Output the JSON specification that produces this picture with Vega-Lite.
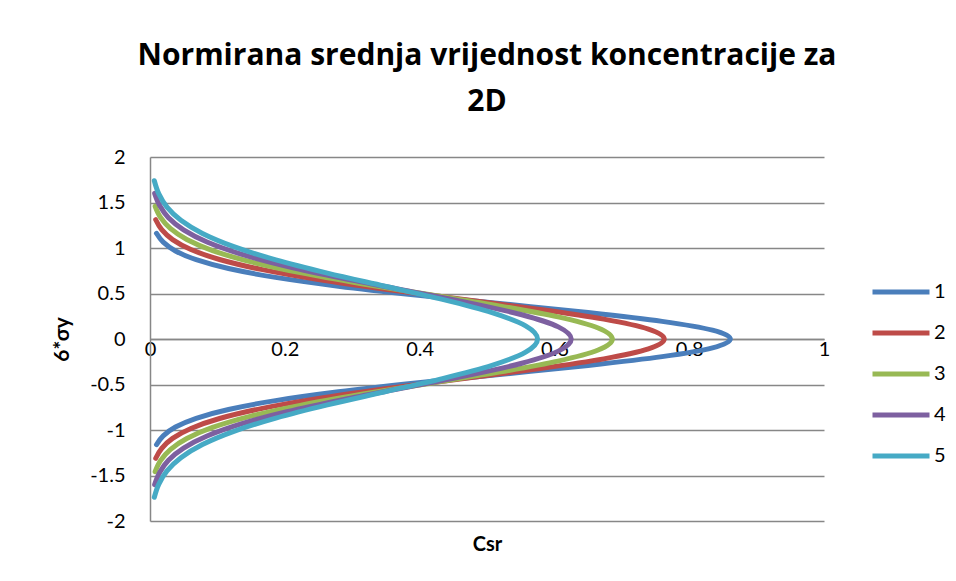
{
 "$schema": "https://vega.github.io/schema/vega-lite/v6.json",
 "autosize": {"type": "none"},
 "width": 674,
 "height": 364,
 "padding": {"left": 150, "top": 157, "right": 132, "bottom": 60},
 "background": "white",
 "title": {"text": ["Normirana srednja vrijednost koncentracije za", "2D"], "font": "Open Sans", "fontSize": 30, "fontWeight": "bold", "color": "black", "anchor": "middle", "frame": "group", "lineHeight": 46, "offset": 30},
 "config": {"view": {"stroke": null}, "font": "Lato"},
 "data": {"values": [
  {"s":"1","c":0.0096,"y":-1.1613},{"s":"1","c":0.0196,"y":-1.0645},{"s":"1","c":0.0378,"y":-0.9678},{"s":"1","c":0.0685,"y":-0.8710},{"s":"1","c":0.1165,"y":-0.7742},{"s":"1","c":0.1862,"y":-0.6774},{"s":"1","c":0.2796,"y":-0.5807},{"s":"1","c":0.3942,"y":-0.4839},{"s":"1","c":0.5222,"y":-0.3871},{"s":"1","c":0.6499,"y":-0.2903},{"s":"1","c":0.7598,"y":-0.1936},{"s":"1","c":0.8345,"y":-0.0968},
  {"s":"1","c":0.861,"y":0},
  {"s":"1","c":0.8345,"y":0.0968},{"s":"1","c":0.7598,"y":0.1936},{"s":"1","c":0.6499,"y":0.2903},{"s":"1","c":0.5222,"y":0.3871},{"s":"1","c":0.3942,"y":0.4839},{"s":"1","c":0.2796,"y":0.5807},{"s":"1","c":0.1862,"y":0.6774},{"s":"1","c":0.1165,"y":0.7742},{"s":"1","c":0.0685,"y":0.8710},{"s":"1","c":0.0378,"y":0.9678},{"s":"1","c":0.0196,"y":1.0645},{"s":"1","c":0.0096,"y":1.1613},

  {"s":"2","c":0.0085,"y":-1.3107},{"s":"2","c":0.0174,"y":-1.2015},{"s":"2","c":0.0335,"y":-1.0923},{"s":"2","c":0.0607,"y":-0.9830},{"s":"2","c":0.1032,"y":-0.8738},{"s":"2","c":0.1650,"y":-0.7646},{"s":"2","c":0.2477,"y":-0.6554},{"s":"2","c":0.3493,"y":-0.5461},{"s":"2","c":0.4628,"y":-0.4369},{"s":"2","c":0.5759,"y":-0.3277},{"s":"2","c":0.6734,"y":-0.2185},{"s":"2","c":0.7395,"y":-0.1092},
  {"s":"2","c":0.763,"y":0},
  {"s":"2","c":0.7395,"y":0.1092},{"s":"2","c":0.6734,"y":0.2185},{"s":"2","c":0.5759,"y":0.3277},{"s":"2","c":0.4628,"y":0.4369},{"s":"2","c":0.3493,"y":0.5461},{"s":"2","c":0.2477,"y":0.6554},{"s":"2","c":0.1650,"y":0.7646},{"s":"2","c":0.1032,"y":0.8738},{"s":"2","c":0.0607,"y":0.9830},{"s":"2","c":0.0335,"y":1.0923},{"s":"2","c":0.0174,"y":1.2015},{"s":"2","c":0.0085,"y":1.3107},

  {"s":"3","c":0.0076,"y":-1.4577},{"s":"3","c":0.0156,"y":-1.3362},{"s":"3","c":0.0301,"y":-1.2148},{"s":"3","c":0.0546,"y":-1.0933},{"s":"3","c":0.0928,"y":-0.9718},{"s":"3","c":0.1484,"y":-0.8503},{"s":"3","c":0.2227,"y":-0.7289},{"s":"3","c":0.3141,"y":-0.6074},{"s":"3","c":0.4161,"y":-0.4859},{"s":"3","c":0.5178,"y":-0.3644},{"s":"3","c":0.6054,"y":-0.2430},{"s":"3","c":0.6649,"y":-0.1215},
  {"s":"3","c":0.686,"y":0},
  {"s":"3","c":0.6649,"y":0.1215},{"s":"3","c":0.6054,"y":0.2430},{"s":"3","c":0.5178,"y":0.3644},{"s":"3","c":0.4161,"y":0.4859},{"s":"3","c":0.3141,"y":0.6074},{"s":"3","c":0.2227,"y":0.7289},{"s":"3","c":0.1484,"y":0.8503},{"s":"3","c":0.0928,"y":0.9718},{"s":"3","c":0.0546,"y":1.0933},{"s":"3","c":0.0301,"y":1.2148},{"s":"3","c":0.0156,"y":1.3362},{"s":"3","c":0.0076,"y":1.4577},

  {"s":"4","c":0.0069,"y":-1.5999},{"s":"4","c":0.0143,"y":-1.4666},{"s":"4","c":0.0274,"y":-1.3333},{"s":"4","c":0.0498,"y":-1.1999},{"s":"4","c":0.0846,"y":-1.0666},{"s":"4","c":0.1352,"y":-0.9333},{"s":"4","c":0.2029,"y":-0.8000},{"s":"4","c":0.2861,"y":-0.6666},{"s":"4","c":0.3791,"y":-0.5333},{"s":"4","c":0.4718,"y":-0.4000},{"s":"4","c":0.5516,"y":-0.2667},{"s":"4","c":0.6058,"y":-0.1333},
  {"s":"4","c":0.625,"y":0},
  {"s":"4","c":0.6058,"y":0.1333},{"s":"4","c":0.5516,"y":0.2667},{"s":"4","c":0.4718,"y":0.4000},{"s":"4","c":0.3791,"y":0.5333},{"s":"4","c":0.2861,"y":0.6666},{"s":"4","c":0.2029,"y":0.8000},{"s":"4","c":0.1352,"y":0.9333},{"s":"4","c":0.0846,"y":1.0666},{"s":"4","c":0.0498,"y":1.1999},{"s":"4","c":0.0274,"y":1.3333},{"s":"4","c":0.0143,"y":1.4666},{"s":"4","c":0.0069,"y":1.5999},

  {"s":"5","c":0.0064,"y":-1.7391},{"s":"5","c":0.0131,"y":-1.5942},{"s":"5","c":0.0252,"y":-1.4493},{"s":"5","c":0.0458,"y":-1.3043},{"s":"5","c":0.0778,"y":-1.1594},{"s":"5","c":0.1244,"y":-1.0145},{"s":"5","c":0.1867,"y":-0.8696},{"s":"5","c":0.2632,"y":-0.7246},{"s":"5","c":0.3487,"y":-0.5797},{"s":"5","c":0.4340,"y":-0.4348},{"s":"5","c":0.5074,"y":-0.2899},{"s":"5","c":0.5573,"y":-0.1449},
  {"s":"5","c":0.575,"y":0},
  {"s":"5","c":0.5573,"y":0.1449},{"s":"5","c":0.5074,"y":0.2899},{"s":"5","c":0.4340,"y":0.4348},{"s":"5","c":0.3487,"y":0.5797},{"s":"5","c":0.2632,"y":0.7246},{"s":"5","c":0.1867,"y":0.8696},{"s":"5","c":0.1244,"y":1.0145},{"s":"5","c":0.0778,"y":1.1594},{"s":"5","c":0.0458,"y":1.3043},{"s":"5","c":0.0252,"y":1.4493},{"s":"5","c":0.0131,"y":1.5942},{"s":"5","c":0.0064,"y":1.7391}
 ]},
 "layer": [
  {
   "mark": {"type": "line", "interpolate": "cardinal", "strokeWidth": 5, "strokeCap": "round", "strokeJoin": "round"},
   "encoding": {
    "x": {"field": "c", "type": "quantitative", "scale": {"domain": [0, 1], "nice": false},
     "axis": {"orient": "bottom", "offset": -182, "title": null, "values": [0, 0.2, 0.4, 0.6, 0.8, 1], "labelExpr": "'' + datum.value", "grid": false, "ticks": false, "domainColor": "#878787", "domainWidth": 1.5, "labelFontSize": 20, "labelPadding": 0, "labelColor": "black", "labelFlush": false, "labelOverlap": false}},
    "y": {"field": "y", "type": "quantitative", "scale": {"domain": [-2, 2], "nice": false},
     "axis": {"title": "6*σy", "values": [-2, -1.5, -1, -0.5, 0, 0.5, 1, 1.5, 2], "labelExpr": "'' + datum.value", "grid": true, "gridColor": "#878787", "gridWidth": 1.5, "domainColor": "#878787", "domainWidth": 1.5, "ticks": false, "labelPadding": 25, "labelFontSize": 20, "labelColor": "black", "labelFlush": false, "labelOverlap": false, "titleFontSize": 21, "titleFontWeight": "bold", "titleColor": "black", "titlePadding": 17}},
    "color": {"field": "s", "type": "nominal",
     "scale": {"domain": ["1", "2", "3", "4", "5"], "range": ["#4A7EBB", "#BE4B48", "#98B954", "#7D60A0", "#46AAC5"]},
     "legend": {"title": null, "orient": "none", "legendX": 720, "legendY": 104, "padding": 0, "symbolType": "stroke", "symbolSize": 3249, "symbolStrokeWidth": 5, "labelFontSize": 20, "labelColor": "black", "labelOffset": 2, "rowPadding": -11}},
    "order": {"field": "y", "type": "quantitative"}
   }
  },
  {
   "mark": {"type": "rule", "opacity": 0},
   "encoding": {
    "x": {"field": "c", "type": "quantitative",
     "axis": {"orient": "bottom", "title": "Csr", "labels": false, "ticks": false, "domain": false, "grid": false, "titleFontSize": 20, "titleFontWeight": "bold", "titleColor": "black", "titlePadding": 13}}
   }
  }
 ],
 "resolve": {"axis": {"x": "independent"}}
}
